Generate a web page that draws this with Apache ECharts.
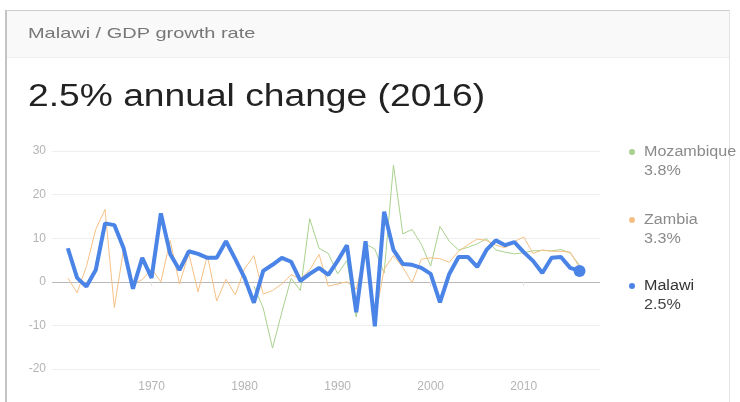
<!DOCTYPE html>
<html>
<head>
<meta charset="utf-8">
<script src="https://cdn.jsdelivr.net/npm/echarts@6/dist/echarts.min.js"></script>
<style>
  html, body { margin: 0; padding: 0; background: #fff; }
  #card { position: absolute; left: 5px; top: 10px; width: 722px; height: 400px;
          border-top: 1px solid #cfcfcf; border-left: 2px solid #c4c4c4; border-right: 1px solid #e4e4e4; }
  #head { position: absolute; left: 0; top: 0; right: 0; height: 46px; background: #f9f9f9; border-bottom: 1px solid #efefef; }
  #chart { position: absolute; left: 0; top: 0; width: 740px; height: 402px; }
</style>
</head>
<body>
<div id="card"><div id="head"></div></div>
<div id="chart"></div>
<script>
// GDP growth, annual %
var malawiStart = 1961;
var malawi = [7.7, 0.9, -1.1, 2.7, 13.4, 13.0, 7.7, -1.6, 5.5, 0.9,
  15.7, 6.4, 2.7, 7.0, 6.4, 5.5, 5.5, 9.3, 5.2, 0.9,
  -4.8, 2.5, 3.9, 5.5, 4.6, 0.2, 1.8, 3.2, 1.6, 4.8,
  8.4, -7.0, 9.3, -10.2, 16.1, 7.3, 4.1, 3.9, 3.2, 1.8,
  -4.7, 1.8, 5.7, 5.7, 3.4, 7.3, 9.5, 8.4, 9.1, 6.8,
  4.8, 2.0, 5.5, 5.7, 3.2, 2.5];

var zambiaStart = 1961;
var zambia = [0.9, -2.5, 3.5, 12.0, 16.6, -5.9, 7.5, -0.5, 0.5, 3.0,
  0.0, 9.5, -0.5, 6.5, -2.3, 6.0, -4.4, 0.6, -3.0, 3.0,
  6.0, -2.8, -2.0, -0.5, 1.6, 0.7, 2.7, 6.3, -1.0, -0.5,
  0.0, -1.7, 6.8, -8.6, 2.9, 6.0, 3.3, -0.2, 5.2, 5.5,
  5.3, 4.5, 7.0, 8.5, 9.8, 9.5, 8.4, 7.8, 9.2, 10.3,
  6.5, 7.3, 7.0, 7.0, 6.8, 3.3];

var mozambiqueStart = 1981;
var mozambique = [-1.0, -6.0, -15.2, -7.0, 0.8, -2.0, 14.5, 7.7, 6.5, 1.8,
  4.9, -8.1, 8.7, 7.5, 2.0, 26.8, 11.0, 12.0, 8.6, 3.6,
  12.7, 9.3, 7.3, 7.9, 8.7, 9.9, 7.3, 6.8, 6.4, 6.7,
  7.1, 7.2, 7.1, 7.4, 6.6, 3.8];

var yearTicks = [1970, 1980, 1990, 2000, 2010];
var legendNames = ['Mozambique', 'Zambia', 'Malawi'];
var legendValues = ['3.8%', '3.3%', '2.5%'];
var legendColors = ['#a9d18e', '#f6c084', '#4a84e6'];

function pairs(start, vals) {
  return vals.map(function (v, i) { return [start + i, v]; });
}

var chart = echarts.init(document.getElementById('chart'), null, { renderer: 'canvas' });
var font = 'Liberation Sans, Arial, sans-serif';

var graphic = [
  { type: 'text', x: 28, y: 34, scaleX: 1.33,
    style: { text: 'Malawi / GDP growth rate', x: 0, y: 0, font: '15px ' + font, fill: '#777', textVerticalAlign: 'middle' } },
  { type: 'text', x: 28, y: 97, scaleX: 1.2,
    style: { text: '2.5% annual change (2016)', x: 0, y: 0, font: '31px ' + font, fill: '#222', textVerticalAlign: 'middle' } }
];
var legendY = [152, 220, 286];
legendNames.forEach(function (n, i) {
  var dark = n === 'Malawi';
  graphic.push({ type: 'circle', shape: { cx: 632, cy: legendY[i], r: 3 }, style: { fill: legendColors[i] } });
  graphic.push({ type: 'text', x: 644, y: legendY[i], scaleX: 1.15,
    style: { text: n, x: 0, y: 0, font: '14px ' + font, fill: dark ? '#333' : '#8a8a8a', textVerticalAlign: 'middle' } });
  graphic.push({ type: 'text', x: 644, y: legendY[i] + 19, scaleX: 1.15,
    style: { text: legendValues[i], x: 0, y: 0, font: '14px ' + font, fill: dark ? '#444' : '#8a8a8a', textVerticalAlign: 'middle' } });
});

var option = {
  animation: false,
  grid: { left: 52, right: 140, top: 151, bottom: 33, outerBoundsMode: 'none' },
  xAxis: {
    type: 'value', min: 1959.3, max: 2018.2,
    splitLine: { show: false },
    axisLine: { show: false },
    axisTick: { show: true, customValues: yearTicks, length: 4, lineStyle: { color: '#e2e2e2' } },
    axisLabel: { customValues: yearTicks, margin: 12, color: '#b4b4b4', fontSize: 12, fontFamily: font,
      formatter: function (v) { return String(v); } }
  },
  yAxis: {
    type: 'value', min: -20, max: 30, interval: 10,
    axisLine: { show: false }, axisTick: { show: false },
    axisLabel: { margin: 6, color: '#b4b4b4', fontSize: 12, fontFamily: font },
    splitLine: { lineStyle: { color: ['#eeeeee', '#eeeeee', '#b8b8b8', '#eeeeee', '#eeeeee', '#eeeeee'], width: 1 } }
  },
  series: [
    { name: 'Mozambique', type: 'line', data: pairs(mozambiqueStart, mozambique), symbol: 'none',
      lineStyle: { color: legendColors[0], width: 1 }, z: 2 },
    { name: 'Zambia', type: 'line', data: pairs(zambiaStart, zambia), symbol: 'none',
      lineStyle: { color: legendColors[1], width: 1 }, z: 3 },
    { name: 'Malawi', type: 'line', data: pairs(malawiStart, malawi),
      symbol: 'circle', showAllSymbol: true,
      symbolSize: function (v, p) { return p.dataIndex === malawi.length - 1 ? 12 : 0; },
      itemStyle: { color: legendColors[2] },
      lineStyle: { color: legendColors[2], width: 4 }, z: 4 }
  ],
  graphic: graphic
};
chart.setOption(option);
</script>
</body>
</html>
